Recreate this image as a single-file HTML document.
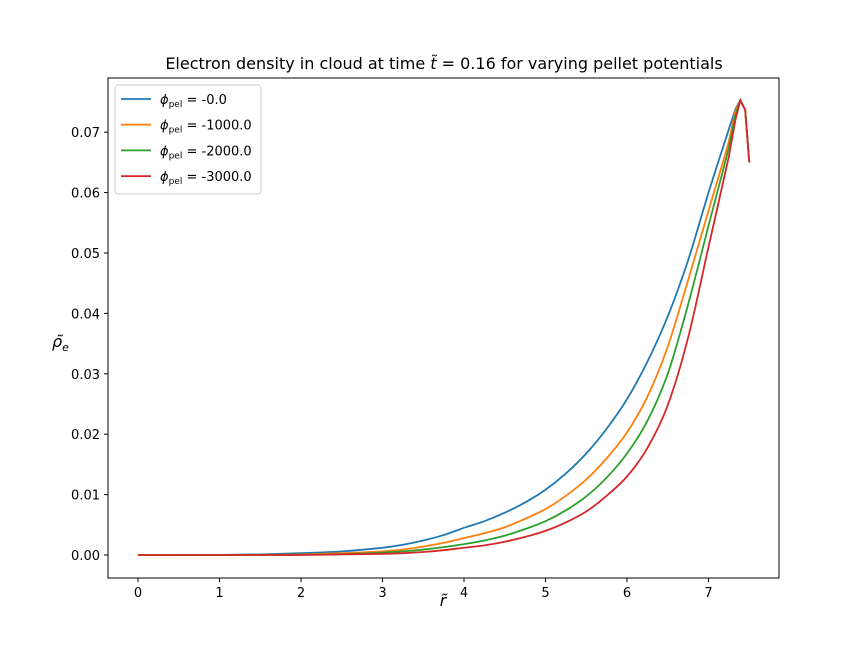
<!DOCTYPE html>
<html><head><meta charset="utf-8"><style>
body{margin:0;background:#fff;font-family:"DejaVu Sans","Liberation Sans",sans-serif;}
svg text{font-family:"DejaVu Sans","Liberation Sans",sans-serif;fill:#000;}
</style></head><body>
<svg id="chart" width="866" height="649" xmlns="http://www.w3.org/2000/svg">
<rect width="866" height="649" fill="#fff"/>
<text x="444" y="69" font-size="16" text-anchor="middle">Electron density in cloud at time <tspan font-style="italic">t̃</tspan> = 0.16 for varying pellet potentials</text>
<g id="plot"></g>
<rect x="108" y="78" width="671" height="500" fill="none" stroke="#000" stroke-width="1"/>
<text x="52" y="347" font-size="16" font-style="italic">ρ̃<tspan font-size="11" dy="4">e</tspan></text>
<text x="443" y="606" font-size="16" font-style="italic" text-anchor="middle">r̃</text>
<g id="legend"></g>
</svg>
<script>
const rVals=[0,0.5,1,1.5,2,2.5,3,3.25,3.5,3.75,4,4.25,4.5,4.75,5,5.25,5.5,5.75,6,6.25,6.5,6.75,7,7.25,7.33,7.39,7.45,7.5];
const blue=[0,0,0.00002,0.0001,0.0003,0.0006,0.0012,0.0017,0.0024,0.0033,0.0045,0.0056,0.0070,0.0087,0.0108,0.0135,0.0168,0.0209,0.0258,0.0320,0.0395,0.0488,0.060,0.0705,0.0738,0.0753,0.0737,0.065];
const orange=[0,0,0,0.00003,0.0001,0.0003,0.0006,0.0009,0.0014,0.0020,0.0028,0.0036,0.0046,0.0060,0.0076,0.0098,0.0125,0.0160,0.0203,0.0262,0.0345,0.0455,0.057,0.0685,0.0735,0.0753,0.0737,0.065];
const green=[0,0,0,0,0.00005,0.00015,0.0004,0.0006,0.0009,0.0013,0.0018,0.0024,0.0032,0.0043,0.0056,0.0074,0.0097,0.0128,0.0168,0.0222,0.0300,0.0415,0.0545,0.0675,0.0728,0.0753,0.0737,0.065];
const red=[0,0,0,0,0,0.0001,0.0002,0.0003,0.0005,0.0008,0.0012,0.0016,0.0022,0.0030,0.0040,0.0054,0.0072,0.0098,0.0130,0.0177,0.0248,0.0360,0.051,0.066,0.072,0.0753,0.0737,0.065];
const seriesLabels=["-0.0","-1000.0","-2000.0","-3000.0"];
const xTicks=[0,1,2,3,4,5,6,7];
const yTicks=[0,0.01,0.02,0.03,0.04,0.05,0.06,0.07];
const colors=["#1f77b4","#ff7f0e","#2ca02c","#d62728"];
const NS="http://www.w3.org/2000/svg";
const X=v=>138+v*81.5, Y=v=>555-v*6040;
const plot=document.getElementById('plot');
function mk(t,a,p){const e=document.createElementNS(NS,t);for(const k in a)e.setAttribute(k,a[k]);(p||plot).appendChild(e);return e;}
xTicks.forEach(t=>{
  const l=mk('line',{x1:X(t),x2:X(t),y1:578,y2:582,stroke:'#000'});
  
  
  const s=mk('text',{x:X(t),y:597,'font-size':13,'text-anchor':'middle'});s.textContent=t;
  
  
});
yTicks.forEach(t=>{
  const l=mk('line',{x1:104,x2:108,y1:Y(t),y2:Y(t),stroke:'#000'});
  
  
  const s=mk('text',{x:100,y:Y(t)+5,'font-size':13,'text-anchor':'end'});s.textContent=t.toFixed(2);
  
  
});
function pathFor(arr){
  const P=arr.map((v,j)=>[X(rVals[j]),Y(v)]);
  const smoothEnd=rVals.indexOf(7.25);
  let d='M'+P[0][0]+','+P[0][1];
  for(let i=0;i<P.length-1;i++){
    if(i<smoothEnd){
      const p0=P[Math.max(i-1,0)],p1=P[i],p2=P[i+1],p3=P[Math.min(i+2,smoothEnd+1)];
      const c1=[p1[0]+(p2[0]-p0[0])/6,p1[1]+(p2[1]-p0[1])/6];
      const c2=[p2[0]-(p3[0]-p1[0])/6,p2[1]-(p3[1]-p1[1])/6];
      d+=' C'+c1+' '+c2+' '+p2;
    } else d+=' L'+P[i+1];
  }
  return d;
}
[blue,orange,green,red].forEach((arr,i)=>{
  const p=mk('path',{d:pathFor(arr),fill:'none',stroke:colors[i],'stroke-width':1.8});
  
  
});
const lg=document.getElementById('legend');
mk('rect',{x:115,y:85,width:146,height:109,rx:3,fill:'#fff',stroke:'#ccc'},lg);
seriesLabels.forEach((s,i)=>{
  const y=99+i*25.7;
  const l=mk('line',{x1:121,x2:151,y1:y,y2:y,stroke:colors[i],'stroke-width':1.8},lg);
  
  
  const t=mk('text',{x:160,y:y+5,'font-size':13},lg);
  t.innerHTML='<tspan font-style="italic">ϕ</tspan><tspan font-size="9" dy="3">pel</tspan><tspan dy="-3"> = '+s+'</tspan>';
  
  
});
</script>
</body></html>
